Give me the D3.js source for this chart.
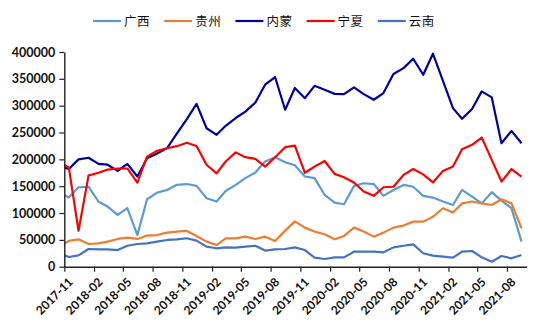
<!DOCTYPE html>
<html>
<head>
<meta charset="utf-8">
<script src="https://cdn.jsdelivr.net/npm/d3@7"></script>
<style>
  html, body { margin: 0; padding: 0; background: #ffffff; }
  svg { display: block; }
</style>
</head>
<body>
<svg id="chart" width="550" height="330"></svg>
<script>
// Monthly figures, 2017-10 .. 2021-09
const months = [
  "2017-10","2017-11","2017-12","2018-01","2018-02","2018-03","2018-04","2018-05","2018-06","2018-07","2018-08","2018-09",
  "2018-10","2018-11","2018-12","2019-01","2019-02","2019-03","2019-04","2019-05","2019-06","2019-07","2019-08","2019-09",
  "2019-10","2019-11","2019-12","2020-01","2020-02","2020-03","2020-04","2020-05","2020-06","2020-07","2020-08","2020-09",
  "2020-10","2020-11","2020-12","2021-01","2021-02","2021-03","2021-04","2021-05","2021-06","2021-07","2021-08","2021-09"
];

const guangxi = [
  139000,129000,148000,149000,121000,112000,96400,109000,59000,125700,138000,143000,
  152500,154000,150500,127600,121400,141000,152500,165000,175400,196000,204000,194700,
  189000,168000,165000,134000,119500,116400,150600,155500,154000,132000,143000,152400,
  149000,132000,128800,121400,115000,143000,130700,118000,138800,123000,109000,46700
];
const guizhou = [
  37000,48000,51000,42300,43600,46700,51700,54000,51700,58000,59000,63500,
  65500,66600,57300,46700,40400,52900,52900,56000,51700,56000,48000,67200,
  84500,72800,65400,60400,51000,57300,72800,65400,56000,63500,72800,76600,
  84000,84000,93000,108900,100800,118000,121400,118000,115000,125600,118000,71600
];
const neimeng = [
  187000,182000,200000,203000,191500,190000,178500,191500,168000,202000,211000,221000,
  248000,275000,303500,258000,245700,262500,277000,289000,306000,339000,353000,292500,
  333000,314000,337000,329700,322000,321500,334000,321500,311000,323500,359000,370000,
  387500,357600,396800,346000,295500,275600,293700,326600,315400,230000,253000,230000
];
const ningxia = [
  195000,185000,67000,170000,175000,181000,183000,183000,156700,205000,216000,220700,
  224500,231000,225000,190000,174000,196000,213000,204000,201000,186500,204000,222700,
  225500,175000,186500,197000,173000,166800,157000,140000,132000,148000,149000,171000,
  182000,172000,157000,178500,186500,219000,227000,240700,199000,158600,182000,167900
];
const yunnan = [
  25000,18000,21000,33000,32400,32400,31000,39000,42300,43600,46700,49800,
  51000,53000,48600,37400,34300,36000,35500,37400,39000,30000,32400,33000,
  36000,31000,16800,14400,17400,17400,28000,28000,28000,26800,36000,39000,
  41700,25000,20600,18700,16800,28000,29300,17400,9300,19900,15600,21800
];

const seriesNames = ["广西", "贵州", "内蒙", "宁夏", "云南"];
const seriesValues = [guangxi, guizhou, neimeng, ningxia, yunnan];
const seriesColors = ["#5b9bd5", "#ed7d31", "#0000a0", "#ff0000", "#4472c4"];

const xTickLabels = [
  "2017-11","2018-02","2018-05","2018-08","2018-11","2019-02","2019-05","2019-08",
  "2019-11","2020-02","2020-05","2020-08","2020-11","2021-02","2021-05","2021-08"
];
const yTickValues = [0, 50000, 100000, 150000, 200000, 250000, 300000, 350000, 400000];

// ---- layout ----
const plot = { left: 64.3, right: 526.7, top: 52, bottom: 266.7 };
const font = "Lato, 'Open Sans', 'Liberation Sans', sans-serif";

const svg = d3.select("#chart");

const parseMonth = d3.timeParse("%Y-%m");
const midMonth = s => d3.timeDay.offset(parseMonth(s), 14);

const x = d3.scaleTime()
  .domain([new Date(2017, 10, 1), new Date(2021, 9, 1)])
  .range([plot.left, plot.right]);
const y = d3.scaleLinear()
  .domain([0, 400000])
  .range([plot.bottom, plot.top]);

// clip lines to the plot's horizontal extent
svg.append("defs").append("clipPath").attr("id", "plotClip")
  .append("rect")
  .attr("x", plot.left).attr("y", 0)
  .attr("width", plot.right - plot.left).attr("height", 330);

// ---- series ----
const line = d3.line()
  .x((d, i) => x(midMonth(months[i])))
  .y(d => y(d));

const lines = svg.append("g").attr("clip-path", "url(#plotClip)");
seriesValues.forEach((vals, k) => {
  lines.append("path")
    .datum(vals)
    .attr("fill", "none")
    .attr("stroke", seriesColors[k])
    .attr("stroke-width", 2.2)
    .attr("stroke-linejoin", "round")
    .attr("d", line);
});

// ---- axes ----
const yAxis = svg.append("g")
  .attr("transform", `translate(${plot.left},0)`)
  .call(d3.axisLeft(y).tickValues(yTickValues).tickSize(5).tickSizeOuter(0).tickFormat(d3.format("d")).tickPadding(4));
yAxis.select(".domain").attr("stroke", "#222").attr("stroke-width", 1.4);
yAxis.selectAll(".tick line").attr("stroke", "#222").attr("stroke-width", 1.2);
yAxis.selectAll(".tick text")
  .attr("fill", "#111")
  .style("font-family", font)
  .style("font-size", "12.5px")
  .style("font-weight", "700");

const xAxis = svg.append("g")
  .attr("transform", `translate(0,${plot.bottom})`)
  .call(d3.axisBottom(x)
    .tickValues(xTickLabels.map(parseMonth))
    .tickSize(5).tickSizeOuter(0)
    .tickFormat(d3.timeFormat("%Y-%m")));
xAxis.select(".domain").attr("stroke", "#222").attr("stroke-width", 1.4);
xAxis.selectAll(".tick line").attr("stroke", "#222").attr("stroke-width", 1.2);
xAxis.selectAll(".tick text")
  .attr("fill", "#111")
  .attr("text-anchor", "end")
  .attr("dy", null)
  .attr("y", 0)
  .attr("transform", "translate(9,16) rotate(-45)")
  .style("font-family", font)
  .style("font-size", "12px")
  .style("font-weight", "700");

// ---- legend ----
const legend = svg.append("g").attr("transform", "translate(93,21)");
const items = legend.selectAll("g")
  .data(seriesNames)
  .join("g")
  .attr("transform", (d, i) => `translate(${i * 71.2},0)`);
items.append("line")
  .attr("x1", 0).attr("x2", 28)
  .attr("y1", 0).attr("y2", 0)
  .attr("stroke", (d, i) => seriesColors[i])
  .attr("stroke-width", 2.2);
items.append("text")
  .attr("x", 31).attr("y", 0)
  .attr("dy", "0.36em")
  .attr("fill", "#111")
  .style("font-family", "'Noto Sans CJK SC', sans-serif")
  .style("font-size", "12.5px")
  .style("letter-spacing", "0.5px")
  .text(d => d);
</script>
</body>
</html>
